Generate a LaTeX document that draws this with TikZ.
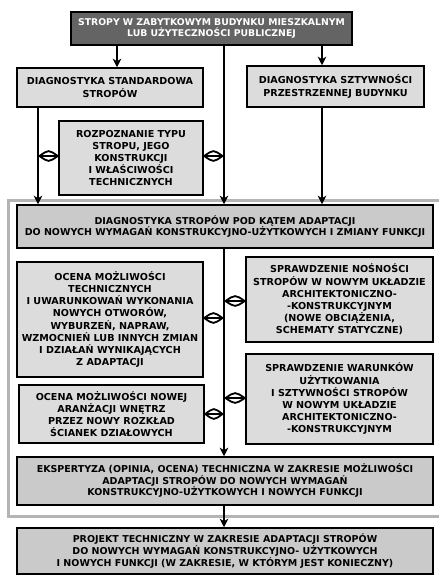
\documentclass[tikz,border=0pt]{standalone}
\usepackage{fontspec}
\setmainfont{DejaVu Sans}
\usetikzlibrary{arrows.meta,calc}
\definecolor{darkbox}{HTML}{646464}
\definecolor{lightbox}{HTML}{DCDCDC}
\definecolor{midbox}{HTML}{CACACA}
\definecolor{frame}{HTML}{B4B4B4}
\tikzset{
  box/.style={draw=black, line width=1.5pt, align=center, inner sep=0pt, font=\fontsize{9.5}{10.6}\selectfont\bfseries},
  lbox/.style={box, fill=lightbox},
  mbox/.style={box, fill=midbox},
  tall/.style={font=\fontsize{9.6}{12.2}\selectfont\bfseries},
  conn/.style={line width=2.2pt, draw=black},
  arr/.style={conn, -{Stealth[length=8.5pt,width=8.5pt,inset=2.5pt]}},
  lens/.style={line width=1.8pt, draw=black, fill=white}
}
\newcommand{\lensmark}[2]{%
  \draw[lens] (#1) .. controls ($(#1)!0.5!(#2)+(0,-6.5)$) .. (#2) .. controls ($(#1)!0.5!(#2)+(0,6.5)$) .. (#1) -- cycle;
  \draw[line width=1.8pt] (#1) -- (#2);}
\begin{document}
\begin{tikzpicture}[x=1pt,y=-1pt]
\useasboundingbox (0,0) rectangle (439,576);
% container frame
\draw[frame, line width=3pt] (440,200) -- (8,200) -- (8,516) -- (440,516);
% x positions
\coordinate (xa) at (117,0);
\coordinate (xl) at (38,0);
\coordinate (xm) at (224,0);
\coordinate (xr) at (322,0);
% nodes
\node[box, fill=darkbox, text=white, font=\fontsize{9.3}{10.6}\selectfont\bfseries, minimum width=281pt, minimum height=33pt] (top) at (211.5,28.5)
  {STROPY W ZABYTKOWYM BUDYNKU MIESZKALNYM\\LUB UŻYTECZNOŚCI PUBLICZNEJ};
\node[lbox, tall, minimum width=186pt, minimum height=39pt] (stand) at (110,87.5)
  {DIAGNOSTYKA STANDARDOWA\\STROPÓW};
\node[lbox, tall, minimum width=177pt, minimum height=41pt] (szt) at (335.5,86.5)
  {DIAGNOSTYKA SZTYWNOŚCI\\PRZESTRZENNEJ BUDYNKU};
\node[lbox, tall, minimum width=144pt, minimum height=74pt] (roz) at (131,158)
  {ROZPOZNANIE TYPU\\STROPU, JEGO\\KONSTRUKCJI\\I WŁAŚCIWOŚCI\\TECHNICZNYCH};
\node[mbox, minimum width=416pt, minimum height=43pt] (diag) at (225,226.5)
  {DIAGNOSTYKA STROPÓW POD KĄTEM ADAPTACJI\\DO NOWYCH WYMAGAŃ KONSTRUKCYJNO-UŻYTKOWYCH I ZMIANY FUNKCJI};
\node[lbox, tall, minimum width=186pt, minimum height=115pt] (oc1) at (110,319.5)
  {OCENA MOŻLIWOŚCI\\TECHNICZNYCH\\I UWARUNKOWAŃ WYKONANIA\\NOWYCH OTWORÓW,\\WYBURZEŃ, NAPRAW,\\WZMOCNIEŃ LUB INNYCH ZMIAN\\I DZIAŁAŃ WYNIKAJĄCYCH\\Z ADAPTACJI};
\node[lbox, tall, minimum width=187pt, minimum height=85pt] (sp1) at (339.5,299.5)
  {SPRAWDZENIE NOŚNOŚCI\\STROPÓW W NOWYM UKŁADZIE\\ARCHITEKTONICZNO-\\-KONSTRUKCYJNYM\\(NOWE OBCIĄŻENIA,\\SCHEMATY STATYCZNE)};
\node[lbox, tall, minimum width=185pt, minimum height=58pt] (oc2) at (111.5,414)
  {OCENA MOŻLIWOŚCI NOWEJ\\ARANŻACJI WNĘTRZ\\PRZEZ NOWY ROZKŁAD\\ŚCIANEK DZIAŁOWYCH};
\node[lbox, tall, minimum width=187pt, minimum height=90pt] (sp2) at (339.5,399)
  {SPRAWDZENIE WARUNKÓW\\UŻYTKOWANIA\\I SZTYWNOŚCI STROPÓW\\W NOWYM UKŁADZIE\\ARCHITEKTONICZNO-\\-KONSTRUKCYJNYM};
\node[mbox, font=\fontsize{9.5}{11.5}\selectfont\bfseries, minimum width=416pt, minimum height=48pt] (eksp) at (225,481)
  {EKSPERTYZA (OPINIA, OCENA) TECHNICZNA W ZAKRESIE MOŻLIWOŚCI\\ADAPTACJI STROPÓW DO NOWYCH WYMAGAŃ\\KONSTRUKCYJNO-UŻYTKOWYCH I NOWYCH FUNKCJI};
\node[mbox, font=\fontsize{9.5}{12}\selectfont\bfseries, minimum width=416pt, minimum height=46pt] (proj) at (225,551)
  {PROJEKT TECHNICZNY W ZAKRESIE ADAPTACJI STROPÓW\\DO NOWYCH WYMAGAŃ KONSTRUKCYJNO- UŻYTKOWYCH\\I NOWYCH FUNKCJI (W ZAKRESIE, W KTÓRYM JEST KONIECZNY)};
% connectors
\draw[arr] (top.south -| xa) -- (stand.north -| xa);
\draw[arr] (top.south -| xr) -- (szt.north -| xr);
\draw[arr] (top.south -| xm) -- (diag.north -| xm);
\draw[arr] (stand.south -| xl) -- (diag.north -| xl);
\draw[arr] (szt.south -| xr) -- (diag.north -| xr);
\draw[arr] (diag.south -| xm) -- (eksp.north -| xm);
\draw[arr] (eksp.south -| xm) -- (proj.north -| xm);
% lens markers
\coordinate (l1a) at ($(xl |- roz.west)+(1.5,-2)$);
\coordinate (l1b) at ($(roz.west)+(-0.5,-2)$);
\lensmark{l1a}{l1b}
\coordinate (l2a) at ($(roz.east)+(0.5,-2)$);
\coordinate (l2b) at ($(xm |- roz.east)+(-1.5,-2)$);
\lensmark{l2a}{l2b}
\coordinate (l3a) at ($(oc1.east)+(0.5,-1.5)$);
\coordinate (l3b) at ($(xm |- oc1.east)+(-1.5,-1.5)$);
\lensmark{l3a}{l3b}
\coordinate (l4a) at ($(xm |- sp1.west)+(1.5,1.5)$);
\coordinate (l4b) at ($(sp1.west)+(-0.5,1.5)$);
\lensmark{l4a}{l4b}
\coordinate (l5a) at ($(oc2.east)+(0.5,0)$);
\coordinate (l5b) at ($(xm |- oc2.east)+(-1.5,0)$);
\lensmark{l5a}{l5b}
\coordinate (l6a) at ($(xm |- sp2.west)+(1.5,-1)$);
\coordinate (l6b) at ($(sp2.west)+(-0.5,-1)$);
\lensmark{l6a}{l6b}
\end{tikzpicture}
\end{document}
